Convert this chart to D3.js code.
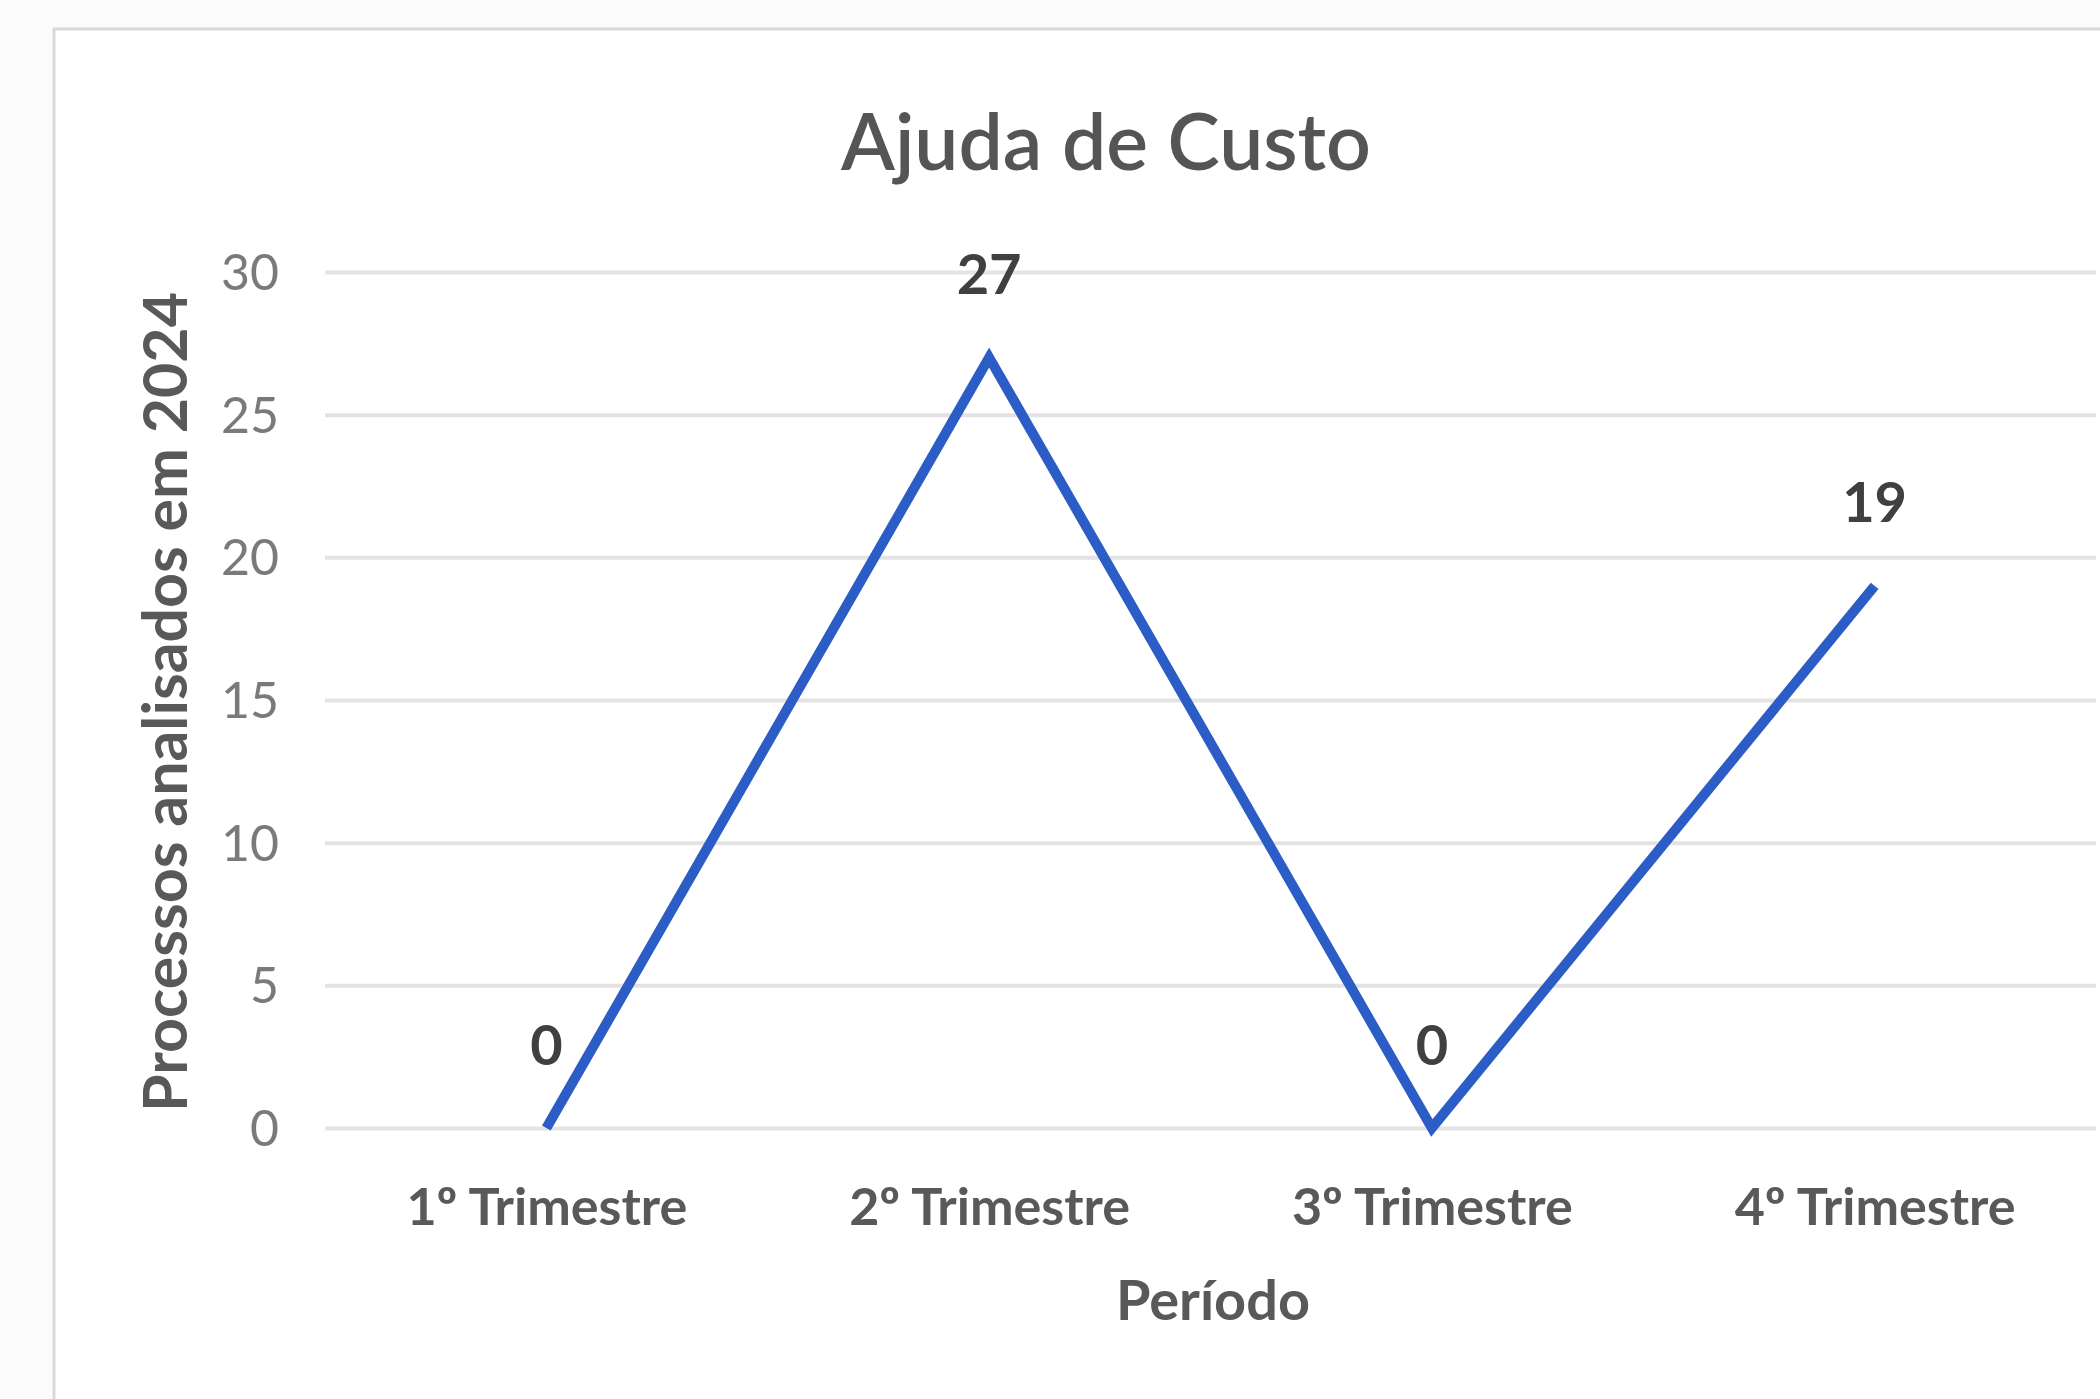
<!DOCTYPE html>
<html>
<head>
<meta charset="utf-8">
<script src="https://cdn.jsdelivr.net/npm/d3@7/dist/d3.min.js"></script>
<style>
  html, body { margin: 0; padding: 0; background: #fbfbfb; }
  svg { display: block; }
</style>
</head>
<body>
<svg id="chart" width="2100" height="1399"></svg>
<script>
const categories = ["1º Trimestre", "2º Trimestre", "3º Trimestre", "4º Trimestre"];
const values = [0, 27, 0, 19];
const yTicks = [0, 5, 10, 15, 20, 25, 30];
const titleText = "Ajuda de Custo";
const xTitle = "Período";
const yTitle = "Processos analisados em 2024";

const W = 2100, H = 1399;
const FONT = "Lato, 'Open Sans', sans-serif";
const svg = d3.select("#chart");

// fit helper: scale font-size so text width matches target
function fit(sel, target) {
  const node = sel.node();
  const fs = parseFloat(sel.attr("font-size"));
  const w = node.getComputedTextLength();
  if (w > 0) sel.attr("font-size", (fs * target / w).toFixed(2));
  return sel;
}

// frame
svg.append("rect").attr("x", 54).attr("y", 29).attr("width", W).attr("height", H)
  .attr("fill", "#ffffff").attr("stroke", "#d9d9d9").attr("stroke-width", 3);

const plot = { left: 325, right: 2096, top: 272, bottom: 1128 };

const x = d3.scalePoint().domain(categories).range([plot.left, plot.right]).padding(0.5);
const y = d3.scaleLinear().domain([0, 30]).range([plot.bottom, plot.top]);

// gridlines
const yAxis = d3.axisLeft(y).tickValues(yTicks).tickSize(-(plot.right - plot.left)).tickPadding(46);
const gy = svg.append("g").attr("transform", `translate(${plot.left},0)`).call(yAxis);
gy.select(".domain").remove();
gy.selectAll(".tick line").attr("stroke", "#e3e3e3").attr("stroke-width", 4);
gy.selectAll(".tick text")
  .attr("font-family", FONT).attr("font-size", 50).attr("fill", "#7a7a7a")
  .attr("dy", "0.35em");

// x axis labels
const xAxis = d3.axisBottom(x).tickSize(0).tickPadding(0);
const gx = svg.append("g").attr("transform", `translate(0,${plot.bottom})`).call(xAxis);
gx.select(".domain").remove();
gx.selectAll(".tick text")
  .attr("font-family", FONT).attr("font-weight", 700).attr("font-size", 50)
  .attr("fill", "#595959").attr("dy", null).attr("y", 97)
  .each(function() { fit(d3.select(this), 281); });

// line
const line = d3.line().x((d, i) => x(categories[i])).y(d => y(d));
svg.append("path").datum(values)
  .attr("d", line).attr("fill", "none")
  .attr("stroke", "#2c5cc5").attr("stroke-width", 10)
  .attr("stroke-linejoin", "miter").attr("stroke-linecap", "butt");

// data labels
svg.append("g").selectAll("text").data(values).join("text")
  .attr("x", (d, i) => x(categories[i]))
  .attr("y", d => y(d) - 83)
  .attr("dy", "0.35em")
  .attr("text-anchor", "middle")
  .attr("font-family", FONT).attr("font-weight", 700).attr("font-size", 56)
  .attr("fill", "#404040")
  .text(d => d);

// title
const t = svg.append("text").attr("x", 1106).attr("y", 170).attr("text-anchor", "middle")
  .attr("font-family", FONT).attr("font-weight", 600).attr("font-size", 80).attr("fill", "#555555")
  .text(titleText);
fit(t, 530);

// x title
const xt = svg.append("text").attr("x", 1213).attr("y", 1320).attr("text-anchor", "middle")
  .attr("font-family", FONT).attr("font-weight", 700).attr("font-size", 56).attr("fill", "#595959")
  .text(xTitle);
fit(xt, 194);

// y title
const yt = svg.append("text")
  .attr("transform", `translate(187,702) rotate(-90)`)
  .attr("text-anchor", "middle")
  .attr("font-family", FONT).attr("font-weight", 700).attr("font-size", 50).attr("fill", "#595959")
  .text(yTitle);
fit(yt, 820);
</script>
</body>
</html>
